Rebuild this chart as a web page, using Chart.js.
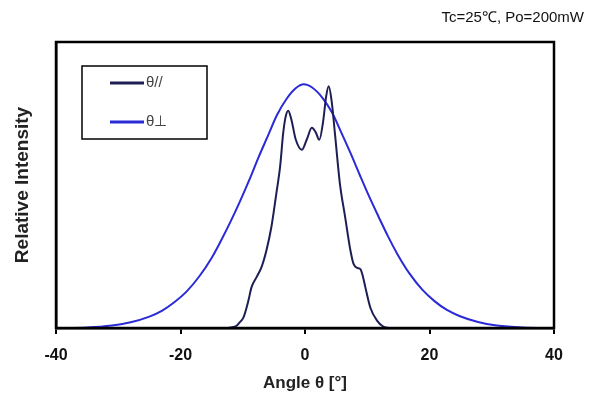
<!DOCTYPE html>
<html>
<head>
<meta charset="utf-8">
<script src="https://cdn.jsdelivr.net/npm/chart.js@4.4.0/dist/chart.umd.min.js"></script>
<style>
  html, body { margin: 0; padding: 0; background: #fff; }
  #wrap { width: 595px; height: 401px; }
</style>
</head>
<body>
<div id="wrap"><canvas id="farfield"></canvas></div>
<script>
// far field pattern (angle in degrees, relative intensity 0..1)
let parAngles = [-40, -12.5, -12, -11, -10.5, -9.9, -9.1, -8.6, -7.8, -7, -6.2, -5.4, -4.6, -4, -3.5, -3.1, -2.7, -2.2, -1.5, -0.5, 0.3, 1.1, 1.7, 2.3, 2.9, 3.4, 3.8, 4.3, 4.8, 5.6, 6.45, 7.3, 7.8, 8.4, 8.9, 9.3, 9.7, 10.5, 11.6, 12.5, 13.2, 14, 40];
let parValues = [0, 0, 0.002, 0.008, 0.02, 0.036, 0.095, 0.142, 0.177, 0.212, 0.271, 0.353, 0.471, 0.564, 0.682, 0.74, 0.76, 0.73, 0.66, 0.623, 0.66, 0.70, 0.685, 0.658, 0.72, 0.81, 0.845, 0.79, 0.682, 0.506, 0.388, 0.271, 0.224, 0.21, 0.206, 0.18, 0.142, 0.071, 0.025, 0.006, 0.001, 0, 0];

let perpAngles = [-40, -35, -31, -28, -25, -23, -21, -19, -17, -15, -13.5, -12, -10.5, -9, -7.5, -6, -4.5, -3, -1.5, -0.2, 1.2, 2.8, 4.3, 5.8, 7.3, 8.8, 10.3, 11.8, 13.3, 14.8, 16.8, 18.8, 20.8, 22.8, 24.8, 27.8, 30.8, 35, 40];
let perpValues = [0, 0.002, 0.009, 0.02, 0.04, 0.06, 0.09, 0.128, 0.18, 0.245, 0.305, 0.37, 0.44, 0.515, 0.595, 0.67, 0.745, 0.80, 0.838, 0.852, 0.84, 0.805, 0.755, 0.685, 0.612, 0.535, 0.46, 0.39, 0.322, 0.26, 0.19, 0.135, 0.094, 0.063, 0.042, 0.021, 0.009, 0.002, 0];

let seriesNames = ["θ//", "θ⊥"];
let seriesColors = ["#1e1e55", "#2a2ad8"];
let xTicks = [-40, -20, 0, 20, 40];

function toPoints(xs, ys) {
	return xs.map((x, i) => ({x: x, y: ys[i]}));
}

// box round the plot, legend and the condition text
const extras = {
	id: "extras",
	afterDraw(chart) {
		const ctx = chart.ctx;
		const a = chart.chartArea;
		ctx.save();
		ctx.strokeStyle = "#000";
		ctx.lineWidth = 2.5;
		ctx.strokeRect(a.left, a.top, a.right - a.left, a.bottom - a.top);

		// legend
		ctx.lineWidth = 1.5;
		ctx.strokeRect(82, 66, 125, 73);
		const rows = [83, 122];
		ctx.font = "15px 'Liberation Sans', Arial, sans-serif";
		ctx.textBaseline = "middle";
		rows.forEach((y, i) => {
			ctx.strokeStyle = seriesColors[i];
			ctx.lineWidth = 3;
			ctx.beginPath();
			ctx.moveTo(110, y);
			ctx.lineTo(144, y);
			ctx.stroke();
			ctx.fillStyle = "#444";
			ctx.fillText(seriesNames[i], 146, y);
		});

		ctx.fillStyle = "#111";
		ctx.font = "15px 'Liberation Sans', Arial, sans-serif";
		ctx.textAlign = "right";
		ctx.fillText("Tc=25℃, Po=200mW", 584, 18);
		ctx.restore();
	}
};

new Chart(document.getElementById("farfield"), {
	type: "scatter",
	data: {
		datasets: [
			{label: seriesNames[0], data: toPoints(parAngles, parValues), showLine: true,
			 borderColor: seriesColors[0], borderWidth: 2, pointRadius: 0,
			 cubicInterpolationMode: "monotone", clip: false},
			{label: seriesNames[1], data: toPoints(perpAngles, perpValues), showLine: true,
			 borderColor: seriesColors[1], borderWidth: 2, pointRadius: 0,
			 cubicInterpolationMode: "monotone", clip: false}
		]
	},
	plugins: [extras],
	options: {
		responsive: true,
		maintainAspectRatio: false,
		animation: false,
		layout: {padding: {top: 42, right: 41, left: 0, bottom: 0}},
		plugins: {legend: {display: false}, tooltip: {enabled: false}},
		scales: {
			x: {
				type: "linear", min: -40, max: 40,
				afterBuildTicks: s => { s.ticks = xTicks.map(v => ({value: v})); },
				afterFit: s => { s.height = 73; },
				grid: {display: true, drawOnChartArea: false, drawTicks: true, tickLength: 6, color: "#000", lineWidth: 2},
				border: {display: true, color: "#000", width: 2.5},
				ticks: {color: "#111", padding: 12, maxRotation: 0,
					font: {family: "'Liberation Sans', Arial, sans-serif", size: 16, weight: "bold"}},
				title: {display: true, text: "Angle θ [°]", color: "#222", padding: {top: 0, bottom: 7},
					font: {family: "'Liberation Sans', Arial, sans-serif", size: 17, weight: "bold"}}
			},
			y: {
				min: 0, max: 1,
				afterFit: s => { s.width = 56; },
				grid: {display: false},
				border: {display: true, color: "#000", width: 2.5},
				ticks: {display: false},
				title: {display: true, text: "Relative Intensity", color: "#222", padding: {top: 11, bottom: 0},
					font: {family: "'Liberation Sans', Arial, sans-serif", size: 19, weight: "bold"}}
			}
		}
	}
});
</script>
</body>
</html>
